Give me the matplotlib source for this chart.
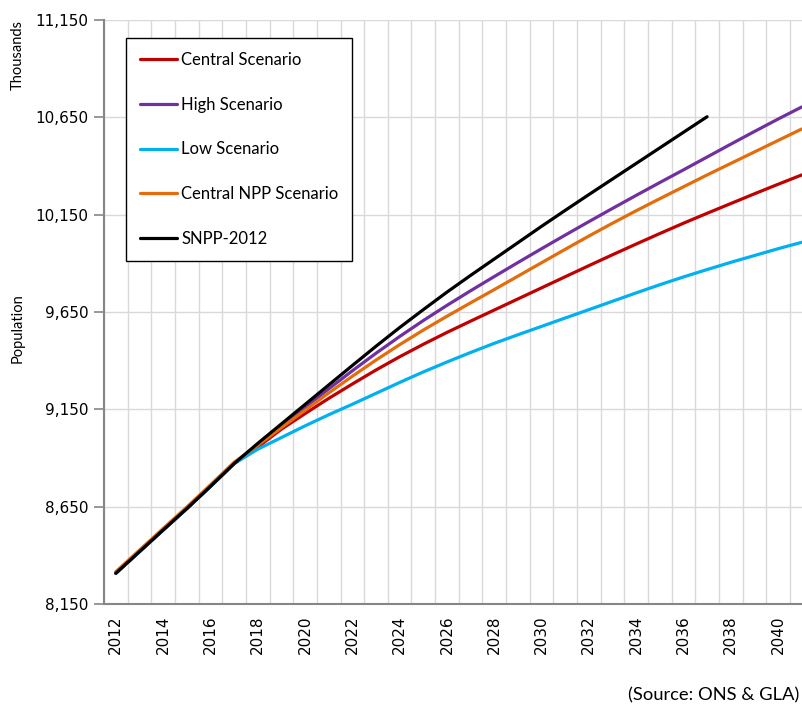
import matplotlib
matplotlib.use("Agg")
import matplotlib.pyplot as plt
from matplotlib.ticker import FuncFormatter, FixedLocator

# data (thousands)
years = list(range(2012, 2042))
snpp_years = list(range(2012, 2038))

central = [8308, 8419, 8530, 8640, 8754, 8871, 8956, 9048, 9128, 9206,
           9280, 9352, 9420, 9484, 9545, 9603, 9660, 9717, 9774, 9831,
           9888, 9944, 9999, 10053, 10106, 10157, 10207, 10257, 10306, 10354]
high = [8308, 8419, 8530, 8640, 8754, 8871, 8970, 9065, 9160, 9255,
        9348, 9438, 9524, 9606, 9684, 9759, 9832, 9904, 9975, 10045,
        10114, 10182, 10249, 10315, 10380, 10446, 10512, 10577, 10641, 10703]
low = [8308, 8419, 8530, 8640, 8754, 8871, 8945, 9005, 9065, 9122,
       9176, 9232, 9288, 9342, 9393, 9442, 9489, 9533, 9576, 9619,
       9662, 9705, 9748, 9790, 9830, 9868, 9905, 9940, 9975, 10008]
central_npp = [8316, 8427, 8538, 8648, 8762, 8878, 8965, 9056, 9145, 9234,
               9320, 9403, 9482, 9557, 9628, 9697, 9765, 9834, 9903, 9972,
               10040, 10106, 10170, 10232, 10293, 10354, 10413, 10472, 10531, 10590]
snpp_2012 = [8308, 8419, 8530, 8640, 8754, 8871, 8975, 9075, 9175, 9275,
             9375, 9474, 9570, 9662, 9752, 9838, 9922, 10006, 10090, 10172,
             10253, 10333, 10413, 10493, 10573, 10653]

series = [
    ("Central Scenario", years, central, "#C00000"),
    ("High Scenario", years, high, "#7030A0"),
    ("Low Scenario", years, low, "#00B0F0"),
    ("Central NPP Scenario", years, central_npp, "#E46C0A"),
    ("SNPP-2012", snpp_years, snpp_2012, "black"),
]

W, H = 802, 704
fig = plt.figure(figsize=(W / 100, H / 100), dpi=100)
# plot area runs past the right edge, like the cropped original
ax = fig.add_axes([104 / W, (H - 604) / H, 709.5 / W, 584 / H])

for i, (name, xs, ys, col) in enumerate(series):
    ax.plot(xs, ys, color=col, lw=2.3, label=name, zorder=3 + i,
            solid_capstyle="round")

ax.set_xlim(2011.5, 2041.5)
ax.set_ylim(8150, 11150)

ax.set_yticks(range(8150, 11151, 500))
ax.yaxis.set_major_formatter(FuncFormatter(lambda v, p: f"{int(v):,}"))
ax.set_xticks(range(2012, 2042, 2))
ax.xaxis.set_minor_locator(FixedLocator([y + 0.5 for y in range(2011, 2042)]))

ax.tick_params(axis="y", length=7, width=1.2, color="#868686", pad=4,
               labelsize=11)
ax.tick_params(axis="x", which="both", length=0, pad=8, labelsize=11,
               labelrotation=90)

ax.grid(False)
ax.grid(axis="y", which="major", color="#D9D9D9", lw=1)
ax.grid(axis="x", which="minor", color="#D9D9D9", lw=1)
ax.set_axisbelow(True)

for s in ["top", "right"]:
    ax.spines[s].set_visible(False)
for s in ["left", "bottom"]:
    ax.spines[s].set_color("#868686")
    ax.spines[s].set_linewidth(1.5)

leg = ax.legend(loc="upper left", bbox_to_anchor=(126 / W, 1 - 38 / H),
                bbox_transform=fig.transFigure, borderaxespad=0,
                frameon=True, fancybox=False, edgecolor="black",
                framealpha=1, handlelength=2.2, handletextpad=0.25,
                labelspacing=1.72, borderpad=0.85,
                prop={"family": "Lato", "size": 12})
leg.get_frame().set_linewidth(1)

fig.text(18 / W, 1 - 328 / H, "Population", rotation=90, ha="center",
         va="center", family="Lato", fontsize=10.5)
fig.text(18 / W, 1 - 55 / H, "Thousands", rotation=90, ha="center",
         va="center", family="Lato", fontsize=10.5)
fig.text(628 / W, 9 / H, "(Source: ONS & GLA)", ha="left", va="center",
         family="Lato", fontsize=13.2)

fig.savefig("out.png", dpi=100)
